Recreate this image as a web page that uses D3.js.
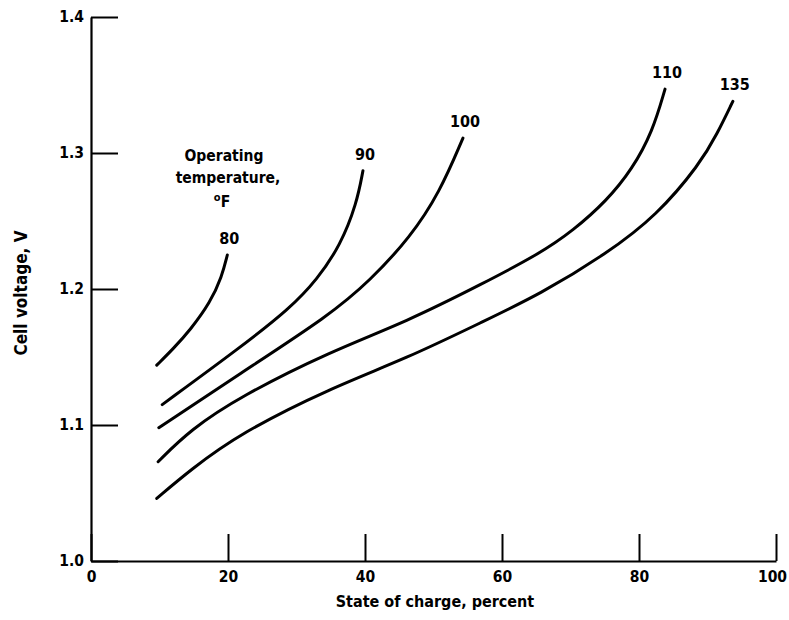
<!DOCTYPE html>
<html>
<head>
<meta charset="utf-8">
<script src="https://cdn.jsdelivr.net/npm/d3@7"></script>
<style>
  body { margin: 0; background: #fff; }
  svg text { font-family: "DejaVu Sans Condensed", "Liberation Sans Narrow", "Arial Narrow", sans-serif; font-weight: bold; fill: #000; }
</style>
</head>
<body>
<div id="chart"></div>
<script>
// State of charge (%) vs cell voltage (V), one curve per operating temperature (deg F)

const xTicks = [0, 20, 40, 60, 80, 100];
const yTicks = [1.0, 1.1, 1.2, 1.3, 1.4];

const soc80  = [9.6, 12.0, 14.5, 17.4, 19.1, 19.9];
const volt80 = [1.144, 1.156, 1.170, 1.190, 1.209, 1.225];

const soc90  = [10.4, 21.8, 29.1, 33.0, 36.4, 38.8, 39.7];
const volt90 = [1.115, 1.157, 1.186, 1.207, 1.232, 1.263, 1.287];

const soc100  = [9.9, 21.8, 34.9, 40.7, 46.6, 50.9, 54.3];
const volt100 = [1.098, 1.138, 1.181, 1.206, 1.238, 1.271, 1.311];

const soc110  = [9.8, 14.5, 21.8, 34.9, 46.1, 57.2, 65.5, 70.4, 75.3, 79.0, 82.0, 83.8];
const volt110 = [1.073, 1.0965, 1.121, 1.154, 1.176, 1.204, 1.226, 1.243, 1.265, 1.288, 1.316, 1.347];

const soc135  = [9.6, 14.5, 21.8, 34.9, 46.1, 57.2, 65.5, 75.3, 82.6, 88.9, 91.4, 93.7];
const volt135 = [1.046, 1.067, 1.094, 1.127, 1.149, 1.176, 1.196, 1.226, 1.254, 1.292, 1.314, 1.338];

const temps = ['80', '90', '100', '110', '135'];
const series = [
  [soc80, volt80], [soc90, volt90], [soc100, volt100], [soc110, volt110], [soc135, volt135]
];

const width = 789, height = 620;
const svg = d3.select('#chart').append('svg')
  .attr('width', width)
  .attr('height', height);

const x = d3.scaleLinear().domain([0, 100]).range([91, 776]);
const y = d3.scaleLinear().domain([1.0, 1.4]).range([561, 17]);

// axes, ticks pointing inward
const xAxis = svg.append('g')
  .attr('transform', `translate(0,${y(1.0)})`)
  .call(d3.axisBottom(x).tickValues(xTicks).tickSize(-27).tickPadding(10).tickSizeOuter(0).tickFormat(d3.format('d')));

const yAxis = svg.append('g')
  .attr('transform', `translate(${x(0)},0)`)
  .call(d3.axisLeft(y).tickValues(yTicks).tickSize(-27).tickPadding(7).tickSizeOuter(0).tickFormat(d3.format('.1f')));

[xAxis, yAxis].forEach(a => {
  a.select('.domain').attr('stroke', '#000').attr('stroke-width', 2.2);
  a.selectAll('.tick line').attr('stroke', '#000').attr('stroke-width', 2);
  a.selectAll('.tick text').attr('font-size', 15.5).attr('fill', '#000')
    .style('font-family', null);
});
xAxis.select('.tick:last-of-type text').attr('dx', -4);

// curves
const line = d3.line()
  .x(d => x(d[0]))
  .y(d => y(d[1]))
  .curve(d3.curveBasis);

series.forEach(([s, v]) => {
  svg.append('path')
    .datum(s.map((d, i) => [d, v[i]]))
    .attr('d', line)
    .attr('fill', 'none')
    .attr('stroke', '#000')
    .attr('stroke-width', 3)
    .attr('stroke-linecap', 'round');
});

// curve labels just above each curve end
series.forEach(([s, v], i) => {
  const n = s.length - 1;
  svg.append('text')
    .attr('x', x(s[n]) + 2)
    .attr('y', y(v[n]) - 11)
    .attr('text-anchor', 'middle')
    .attr('font-size', 16)
    .text(temps[i]);
});

// legend note
const note = svg.append('text')
  .attr('text-anchor', 'middle')
  .attr('font-size', 15.5);
note.append('tspan').attr('x', 224).attr('y', 161).text('Operating');
note.append('tspan').attr('x', 228).attr('y', 183).text('temperature,');
const deg = svg.append('text')
  .attr('x', 222).attr('y', 207)
  .attr('text-anchor', 'middle')
  .attr('font-size', 15.5);
deg.append('tspan').attr('font-size', 11).attr('dy', -6).text('o');
deg.append('tspan').attr('dy', 6).text('F');

// axis titles
svg.append('text')
  .attr('x', 435).attr('y', 607)
  .attr('text-anchor', 'middle')
  .attr('font-size', 16)
  .text('State of charge, percent');

svg.append('text')
  .attr('transform', `translate(27,293) rotate(-90)`)
  .attr('text-anchor', 'middle')
  .attr('font-size', 17)
  .text('Cell voltage, V');
</script>
</body>
</html>
